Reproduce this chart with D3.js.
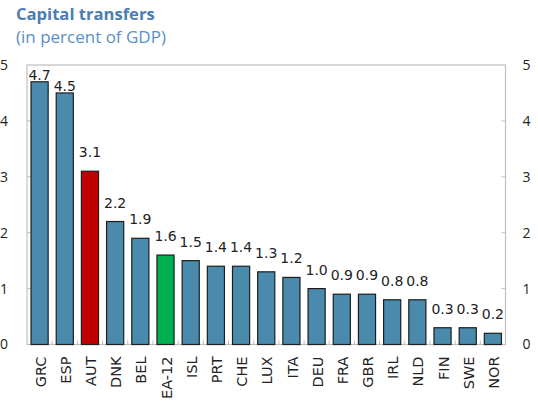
<!DOCTYPE html>
<html>
<head>
<meta charset="utf-8">
<script src="https://cdn.jsdelivr.net/npm/d3@7"></script>
<style>
  body { margin: 0; background: #fff; }
  svg { display: block; }
</style>
</head>
<body>
<div id="vis"></div>
<script>
const WIDTH = 538;
const HEIGHT = 403;

// data
const countries = ["GRC", "ESP", "AUT", "DNK", "BEL", "EA-12", "ISL", "PRT", "CHE", "LUX",
  "ITA", "DEU", "FRA", "GBR", "IRL", "NLD", "FIN", "SWE", "NOR"];
const values = [4.7, 4.5, 3.1, 2.2, 1.9, 1.6, 1.5, 1.4, 1.4, 1.3,
  1.2, 1.0, 0.9, 0.9, 0.8, 0.8, 0.3, 0.3, 0.2];
const yTicks = [0, 1, 2, 3, 4, 5];
const highlight = { "AUT": "#c00000", "EA-12": "#00b050" };

const BAR = "#4a8aad";
const FRAME = "#bfbfbf";

// plot area
const margin = { top: 65, right: 32.5, bottom: 58.5, left: 27 };
const plotW = WIDTH - margin.left - margin.right;
const plotH = HEIGHT - margin.top - margin.bottom;

const data = countries.map((c, i) => ({ country: c, value: values[i] }));

const svg = d3.select("#vis").append("svg")
  .attr("width", WIDTH)
  .attr("height", HEIGHT);

// title
svg.append("text")
  .attr("x", 16).attr("y", 20)
  .attr("font-family", "Open Sans")
  .attr("font-weight", "bold")
  .attr("font-size", 16.6)
  .attr("fill", "#4a7db5")
  .text("Capital transfers");

svg.append("text")
  .attr("x", 16).attr("y", 43)
  .attr("font-family", "Open Sans")
  .attr("font-size", 17)
  .attr("fill", "#5b8fc6")
  .text("(in percent of GDP)");

const g = svg.append("g")
  .attr("transform", `translate(${margin.left},${margin.top})`);

const x = d3.scaleBand()
  .domain(countries)
  .range([0, plotW])
  .paddingInner(0.32)
  .paddingOuter(0.16);

const y = d3.scaleLinear()
  .domain([0, 5])
  .range([plotH, 0]);

// frame
g.append("rect")
  .attr("x", 0).attr("y", 0)
  .attr("width", plotW).attr("height", plotH)
  .attr("fill", "none")
  .attr("stroke", FRAME)
  .attr("stroke-width", 1.2);

// y ticks, inward on both sides
g.selectAll(".ytl").data(yTicks.slice(1, -1)).enter().append("line")
  .attr("x1", 0).attr("x2", 4)
  .attr("y1", d => y(d)).attr("y2", d => y(d))
  .attr("stroke", FRAME);
g.selectAll(".ytr").data(yTicks.slice(1, -1)).enter().append("line")
  .attr("x1", plotW - 4).attr("x2", plotW)
  .attr("y1", d => y(d)).attr("y2", d => y(d))
  .attr("stroke", FRAME);

// x ticks at category boundaries
const step = x.step();
g.selectAll(".xt").data(d3.range(1, countries.length)).enter().append("line")
  .attr("x1", i => i * step).attr("x2", i => i * step)
  .attr("y1", plotH).attr("y2", plotH - 4)
  .attr("stroke", FRAME);

// tick labels
g.selectAll(".yl").data(yTicks).enter().append("text")
  .attr("x", -19).attr("y", d => y(d))
  .attr("dy", "0.35em")
  .attr("text-anchor", "end")
  .attr("font-family", "Open Sans")
  .attr("font-size", 14)
  .attr("fill", "#222")
  .text(d => d);
g.selectAll(".yr").data(yTicks).enter().append("text")
  .attr("x", plotW + 17).attr("y", d => y(d))
  .attr("dy", "0.35em")
  .attr("font-family", "Open Sans")
  .attr("font-size", 14)
  .attr("fill", "#222")
  .text(d => d);

// bars
g.selectAll(".bar").data(data).enter().append("rect")
  .attr("x", d => x(d.country))
  .attr("y", d => y(d.value))
  .attr("width", x.bandwidth())
  .attr("height", d => plotH - y(d.value))
  .attr("fill", d => highlight[d.country] || BAR)
  .attr("stroke", "#1e1e1e")
  .attr("stroke-width", 1.2);

// value labels, the two tallest sit right on the bar
g.selectAll(".val").data(data).enter().append("text")
  .attr("x", d => x(d.country) + x.bandwidth() / 2)
  .attr("y", d => y(d.value) - (d.value >= 4.5 ? 2 : 14))
  .attr("text-anchor", "middle")
  .attr("font-family", "DejaVu Sans")
  .attr("font-size", 14)
  .attr("fill", "#222")
  .text(d => d3.format(".1f")(d.value));

// category labels, rotated
g.selectAll(".cat").data(countries).enter().append("text")
  .attr("transform", d => `translate(${x(d) + x.bandwidth() / 2 + 1},${plotH + 12}) rotate(-90)`)
  .attr("dy", "0.35em")
  .attr("text-anchor", "end")
  .attr("font-family", "DejaVu Sans")
  .attr("font-size", 14.5)
  .attr("fill", "#222")
  .text(d => d);
</script>
</body>
</html>
